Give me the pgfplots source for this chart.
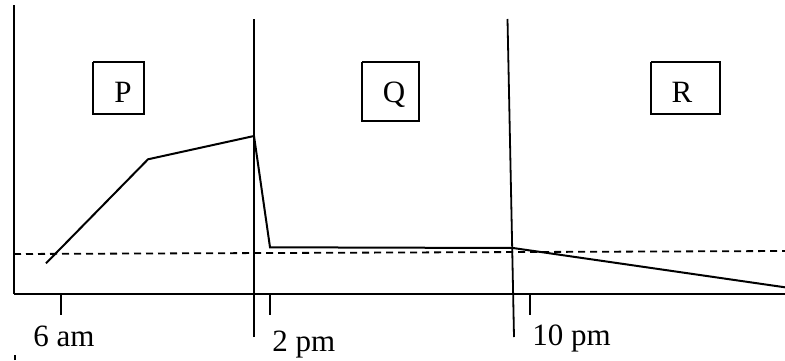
\documentclass[border=0pt]{standalone}
\usepackage{fontspec}
\setmainfont{Liberation Serif}
\usepackage{pgfplots}
\pgfplotsset{compat=1.18}
\tikzset{lbl/.style={font=\fontsize{15.5}{18}\selectfont, inner sep=0pt}}
\begin{document}
\begin{tikzpicture}
\useasboundingbox (0,0) rectangle (392.5pt,180pt);
% data units are pixels of the 785x360 reference, y counted from the bottom
\begin{axis}[
  at={(7pt,33pt)}, anchor=south west,
  scale only axis, width=385.5pt, height=144.5pt,
  xmin=14, xmax=785, ymin=66, ymax=355,
  axis x line=bottom, axis y line=left,
  axis line style={-, line width=0.9pt, black},
  xtick={61,270,530}, xticklabels={,,},
  ytick=\empty,
  tick align=outside, major tick length=10.3pt,
  tick style={black, line width=0.9pt},
  clip=false,
]
% profile
\addplot[black, line width=1pt, line join=miter]
  coordinates {(46,96.7) (148,200.7) (254,224) (270,112.7) (513,112) (785,72.7)};
% reference level
\addplot[black, line width=0.9pt, dash pattern=on 3.5pt off 2.5pt]
  coordinates {(14,106) (785,109)};
% dividers
\addplot[black, line width=0.9pt] coordinates {(254,23) (254,341)};
\addplot[black, line width=0.9pt] coordinates {(514,23) (507.5,341)};
% small mark at bottom left
\addplot[black, line width=0.9pt] coordinates {(15,0) (15,5)};
% boxes
\addplot[black, line width=1pt, line join=miter]
  coordinates {(93,298.3) (144,298.3) (144,246) (93,246) (93,298.3)};
\addplot[black, line width=1pt, line join=miter]
  coordinates {(362,298.3) (419,298.3) (419,239.3) (362,239.3) (362,298.3)};
\addplot[black, line width=1pt, line join=miter]
  coordinates {(651,298.3) (720,298.3) (720,246) (651,246) (651,298.3)};
\node[lbl, anchor=base] at (axis cs:123,258) {\fontsize{15.5}{18}\selectfont P};
\node[lbl, anchor=base] at (axis cs:394,258) {\fontsize{15.5}{18}\selectfont Q};
\node[lbl, anchor=base] at (axis cs:682,258) {\fontsize{15.5}{18}\selectfont R};
% time labels
\node[lbl, anchor=base west] at (axis cs:33,14) {\fontsize{15.5}{18}\selectfont 6 am};
\node[lbl, anchor=base west] at (axis cs:272,9) {\fontsize{15.5}{18}\selectfont 2 pm};
\node[lbl, anchor=base west] at (axis cs:532,15) {\fontsize{15.5}{18}\selectfont 10 pm};
\end{axis}
\end{tikzpicture}
\end{document}
